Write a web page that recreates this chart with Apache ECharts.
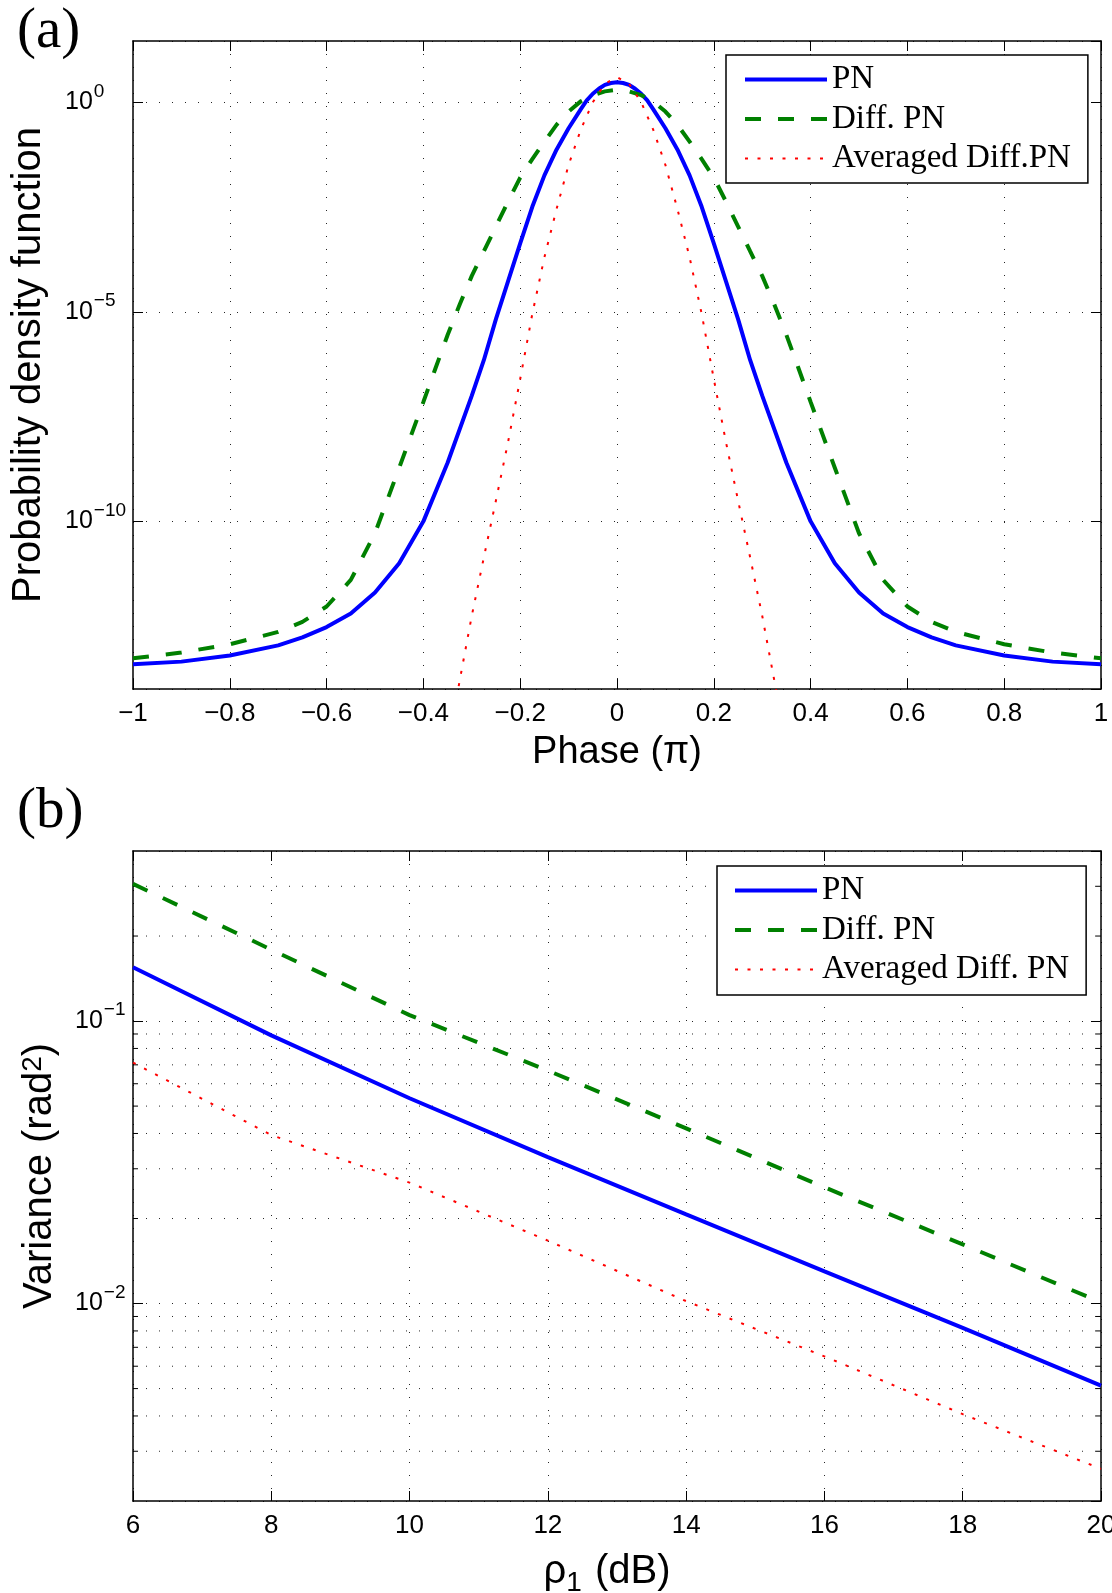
<!DOCTYPE html>
<html>
<head>
<meta charset="utf-8">
<script src="https://cdn.jsdelivr.net/npm/echarts@6/dist/echarts.min.js"></script>
<style>
  html, body { margin: 0; padding: 0; background: #fff; }
  #chart { width: 1112px; height: 1593px; }
</style>
</head>
<body>
<div id="chart"></div>
<script>
// ---------- (a) probability density of the phase (phase in units of pi) ----------
const phasePN = [-1, -0.9, -0.8, -0.7, -0.65, -0.6, -0.55, -0.5, -0.45, -0.4, -0.35, -0.3, -0.275, -0.25,
  -0.225, -0.2, -0.175, -0.15, -0.125, -0.1, -0.075, -0.0625, -0.05, -0.0375, -0.025, -0.0125, 0,
  0.0125, 0.025, 0.0375, 0.05, 0.0625, 0.075, 0.1, 0.125, 0.15, 0.175, 0.2, 0.225, 0.25, 0.275, 0.3, 0.35, 0.4, 0.45, 0.5,
  0.55, 0.6, 0.65, 0.7, 0.8, 0.9, 1];
const pdfPN = [3.9e-14, 4.5e-14, 6.3e-14, 1.1e-13, 1.7e-13, 3.0e-13, 6.3e-13, 2.0e-12, 1.0e-11, 1.0e-10, 2.5e-9, 1.0e-7, 7.1e-7, 6.8e-6,
  5.4e-5, 4.3e-4, 3.2e-3, 1.8e-2, 7.4e-2, 0.24, 0.68, 1.11, 1.6, 2.1, 2.6, 2.88, 3.0,
  2.88, 2.6, 2.1, 1.6, 1.11, 0.68, 0.24, 7.4e-2, 1.8e-2, 3.2e-3, 4.3e-4, 5.4e-5, 6.8e-6, 7.1e-7, 1.0e-7, 2.5e-9, 1.0e-10, 1.0e-11, 2.0e-12,
  6.3e-13, 3.0e-13, 1.7e-13, 1.1e-13, 6.3e-14, 4.5e-14, 3.9e-14];

const phaseDiff = [-1, -0.9, -0.8, -0.7, -0.65, -0.6, -0.55, -0.5, -0.45, -0.4, -0.375, -0.35, -0.325, -0.3, -0.275, -0.25,
  -0.225, -0.2, -0.175, -0.15, -0.125, -0.1, -0.075, -0.05, -0.025, 0,
  0.025, 0.05, 0.075, 0.1, 0.125, 0.15, 0.175, 0.2, 0.225, 0.25, 0.275, 0.3, 0.325, 0.35, 0.375, 0.4,
  0.45, 0.5, 0.55, 0.6, 0.65, 0.7, 0.8, 0.9, 1];
const pdfDiff = [5.4e-14, 7.4e-14, 1.17e-13, 2.3e-13, 4.0e-13, 9.3e-13, 4.0e-12, 5.2e-11, 1.9e-9, 7.1e-8, 4.5e-7, 2.8e-6, 1.5e-5, 7.2e-5, 2.8e-4, 1.1e-3,
  4.3e-3, 1.6e-2, 4.4e-2, 0.115, 0.29, 0.60, 1.05, 1.48, 1.82, 2.0,
  1.82, 1.48, 1.05, 0.60, 0.29, 0.115, 4.4e-2, 1.6e-2, 4.3e-3, 1.1e-3, 2.8e-4, 7.2e-5, 1.5e-5, 2.8e-6, 4.5e-7, 7.1e-8,
  1.9e-9, 5.2e-11, 4.0e-12, 9.3e-13, 4.0e-13, 2.3e-13, 1.17e-13, 7.4e-14, 5.4e-14];

const phaseAvg = [-0.35, -0.325, -0.3, -0.275, -0.25, -0.225, -0.2, -0.175, -0.15, -0.125, -0.1, -0.075, -0.05, -0.025, 0,
  0.025, 0.05, 0.075, 0.1, 0.125, 0.15, 0.175, 0.2, 0.225, 0.25, 0.275, 0.3, 0.325, 0.35];
const pdfAvg = [4e-16, 1.6e-14, 5.6e-13, 1.4e-11, 3.2e-10, 7.9e-9, 2.5e-7, 8.9e-6, 2.0e-4, 2.8e-3, 3.2e-2, 0.22, 1.0, 2.75, 4.0,
  2.75, 1.0, 0.22, 3.2e-2, 2.8e-3, 2.0e-4, 8.9e-6, 2.5e-7, 7.9e-9, 3.2e-10, 1.4e-11, 5.6e-13, 1.6e-14, 4e-16];

const phaseRange = [-1, 1];
const pdfRange = [1e-14, 29];

// ---------- (b) phase-noise variance versus rho_1 ----------
const rhoDb = [6, 8, 10, 12, 14, 16, 18, 20];
const varPN = [0.155, 0.089, 0.0533, 0.033, 0.0207, 0.0130, 0.0082, 0.00512];
const varDiff = [0.306, 0.179, 0.105, 0.0668, 0.0417, 0.0258, 0.0162, 0.0101];
const varAvg = [0.0713, 0.0395, 0.0268, 0.0167, 0.0102, 0.0065, 0.00406, 0.0026];

const rhoRange = [6, 20];
const varRange = [0.002, 0.4];
const varMinorTicks = [0.003, 0.004, 0.005, 0.006, 0.007, 0.008, 0.009,
  0.02, 0.03, 0.04, 0.05, 0.06, 0.07, 0.08, 0.09, 0.2, 0.3];

const legendA = ['PN', 'Diff. PN', 'Averaged Diff.PN'];
const legendB = ['PN', 'Diff. PN', 'Averaged Diff. PN'];

// ---------- styling helpers ----------
const SANS = 'Liberation Sans';
const SERIF = 'Liberation Serif';
const BLACK = '#000';

const zip = (xs, ys) => xs.map((x, i) => [x, ys[i]]);

const dotted = { show: true, lineStyle: { color: BLACK, width: 1, type: [1, 12], opacity: 0.85 } };
const boxLine = { show: true, onZero: false, lineStyle: { color: BLACK, width: 1.5 } };
const inTick = { show: true, inside: true, length: 10, lineStyle: { color: BLACK, width: 1 } };

// base "10" centred on the tick, exponent raised above it (both tokens share one box height)
const tickRich = {
  b: { fontFamily: SANS, fontSize: 25, color: BLACK, lineHeight: 25, padding: [12, 0, 12, 0] },
  s: { fontFamily: SANS, fontSize: 19, color: BLACK, lineHeight: 19, padding: [4, 0, 26, 1] }
};
function decadeLabel(v) {
  const e = Math.round(Math.log10(v));
  return '{b|10}{s|' + (e < 0 ? '\u2212' + (-e) : String(e)) + '}';
}
function signedLabel(v) {
  if (Math.abs(v) < 1e-9) return '0';
  return (v < 0 ? '\u2212' : '') + String(+Math.abs(v).toFixed(1));
}

const nameStyle = { fontFamily: SANS, fontSize: 40, color: BLACK };
const tickFont = { fontFamily: SANS, fontSize: 26, color: BLACK };

function mirrorX(gridIndex, range, interval) {
  return {
    gridIndex, type: 'value', position: 'top', min: range[0], max: range[1], interval,
    axisLine: boxLine, axisTick: inTick, axisLabel: { show: false }, splitLine: { show: false }
  };
}
function mirrorY(gridIndex, range, logBase) {
  return {
    gridIndex, type: 'log', logBase, position: 'right', min: range[0], max: range[1],
    axisLine: boxLine, axisTick: inTick, axisLabel: { show: false }, splitLine: { show: false }
  };
}

function lineSeries(name, xi, yi, data, style) {
  return {
    name, type: 'line', xAxisIndex: xi, yAxisIndex: yi, data,
    symbol: 'none', showSymbol: false, smooth: false,
    clip: true, silent: true,
    lineStyle: style, itemStyle: { color: style.color }
  };
}

const blue = { color: '#0000ff', width: 4 };
const green = { color: '#008000', width: 4, type: [16, 17] };
const red = { color: '#ff0000', width: 2, type: [3, 9.5] };

function legendBox(data, left, top, padding) {
  return {
    data, orient: 'vertical', left, top, padding,
    itemWidth: 82, itemHeight: 14, itemGap: 6.5,
    backgroundColor: '#fff', borderColor: BLACK, borderWidth: 1.5, borderRadius: 0,
    selectedMode: false,
    lineStyle: { width: 'inherit' },
    itemStyle: { opacity: 0, borderWidth: 0 },
    textStyle: { fontFamily: SERIF, fontSize: 33, color: BLACK, lineHeight: 33 }
  };
}

const panelLabel = { fontFamily: SERIF, fontSize: 57, fontWeight: 'normal', color: BLACK };

const option = {
  animation: false,
  backgroundColor: '#fff',
  title: [
    { text: '(a)', left: 17, top: 4, padding: 0, textStyle: panelLabel },
    { text: '(b)', left: 17, top: 784, padding: 0, textStyle: panelLabel }
  ],
  legend: [
    legendBox(legendA, 726, 55, [8, 17, 8, 17]),
    legendBox(legendB, 717, 866, [8, 17, 9, 16])
  ],
  grid: [
    { left: 133, top: 41, width: 968, height: 648, containLabel: false, outerBoundsMode: 'none' },
    { left: 133, top: 851, width: 968, height: 650, containLabel: false, outerBoundsMode: 'none' }
  ],
  xAxis: [
    {
      gridIndex: 0, type: 'value', position: 'bottom', min: phaseRange[0], max: phaseRange[1], interval: 0.2,
      axisLine: boxLine, axisTick: inTick,
      axisLabel: Object.assign({ margin: 12, formatter: signedLabel }, tickFont),
      splitLine: dotted,
      name: 'Phase (\u03c0)', nameLocation: 'middle', nameGap: 45,
      nameTextStyle: Object.assign({}, nameStyle, { fontSize: 38 })
    },
    mirrorX(0, phaseRange, 0.2),
    {
      gridIndex: 1, type: 'value', position: 'bottom', min: rhoRange[0], max: rhoRange[1], interval: 2,
      axisLine: boxLine, axisTick: inTick,
      axisLabel: Object.assign({ margin: 12 }, tickFont),
      splitLine: dotted,
      name: '\u03c1{sub|1} (dB)', nameLocation: 'middle', nameGap: 46,
      nameTextStyle: Object.assign({}, nameStyle, {
        padding: [0, 20, 0, 0],
        rich: { sub: { fontFamily: SANS, fontSize: 28, color: BLACK, verticalAlign: 'bottom', padding: [22, 2, 0, 0] } }
      })
    },
    mirrorX(1, rhoRange, 2)
  ],
  yAxis: [
    {
      gridIndex: 0, type: 'log', logBase: 1e5, position: 'left', min: pdfRange[0], max: pdfRange[1],
      axisLine: boxLine, axisTick: inTick,
      axisLabel: { align: 'left', margin: 68, fontFamily: SANS, fontSize: 25, formatter: decadeLabel, rich: tickRich, showMinLabel: false, showMaxLabel: false },
      splitLine: dotted,
      name: 'Probability density function', nameLocation: 'middle', nameGap: 84, nameTextStyle: nameStyle
    },
    mirrorY(0, pdfRange, 1e5),
    {
      gridIndex: 1, type: 'log', logBase: 10, position: 'left', min: varRange[0], max: varRange[1],
      axisLine: boxLine, axisTick: inTick,
      axisLabel: { align: 'left', margin: 58, fontFamily: SANS, fontSize: 25, formatter: decadeLabel, rich: tickRich, showMinLabel: false, showMaxLabel: false },
      splitLine: dotted,
      name: 'Variance (rad{sup|2})', nameLocation: 'middle', nameGap: 72,
      nameTextStyle: Object.assign({}, nameStyle, {
        rich: { sup: { fontFamily: SANS, fontSize: 28, color: BLACK, verticalAlign: 'top', padding: [0, 0, 14, 0] } }
      })
    },
    mirrorY(1, varRange, 10)
  ],
  series: [
    lineSeries('PN', 0, 0, zip(phasePN, pdfPN), blue),
    lineSeries('Diff. PN', 0, 0, zip(phaseDiff, pdfDiff), green),
    lineSeries('Averaged Diff.PN', 0, 0, zip(phaseAvg, pdfAvg), red),

    // minor log grid lines and minor ticks of panel (b)
    {
      type: 'custom', xAxisIndex: 2, yAxisIndex: 2, silent: true, z: 1,
      data: varMinorTicks.map(v => [rhoRange[0], v]),
      renderItem: (params, api) => {
        const v = api.value(1);
        const a = api.coord([rhoRange[0], v]);
        const b = api.coord([rhoRange[1], v]);
        const st = { stroke: BLACK, lineWidth: 1 };
        return {
          type: 'group',
          children: [
            { type: 'line', shape: { x1: a[0], y1: a[1], x2: b[0], y2: b[1] }, style: { stroke: BLACK, lineWidth: 1, lineDash: [1, 12], opacity: 0.85 } },
            { type: 'line', shape: { x1: a[0], y1: a[1], x2: a[0] + 5, y2: a[1] }, style: st },
            { type: 'line', shape: { x1: b[0] - 5, y1: b[1], x2: b[0], y2: b[1] }, style: st }
          ]
        };
      }
    },

    lineSeries('PN', 2, 2, zip(rhoDb, varPN), blue),
    lineSeries('Diff. PN', 2, 2, zip(rhoDb, varDiff), green),
    lineSeries('Averaged Diff. PN', 2, 2, zip(rhoDb, varAvg), red)
  ]
};

const chart = echarts.init(document.getElementById('chart'), null, { renderer: 'canvas' });
chart.setOption(option);
</script>
</body>
</html>
